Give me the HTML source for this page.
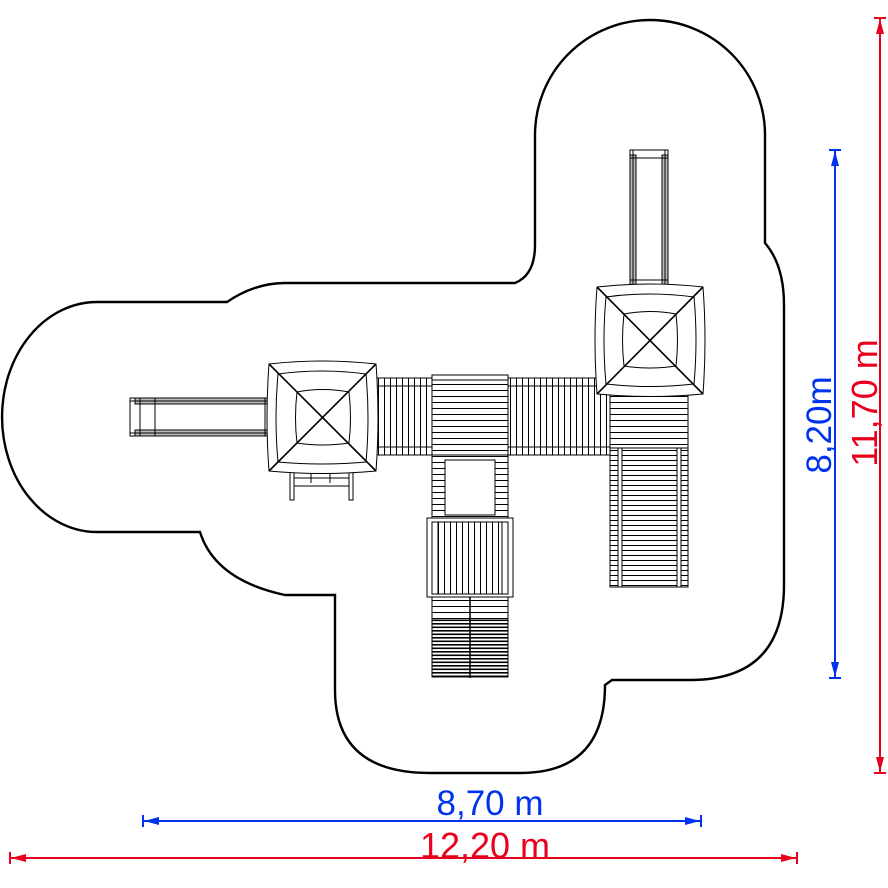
<!DOCTYPE html>
<html><head><meta charset="utf-8"><style>
html,body{margin:0;padding:0;background:#fff;}
svg{display:block;}
text{font-family:"Liberation Sans",sans-serif;}
</style></head><body>
<svg width="888" height="888" viewBox="0 0 888 888" xmlns="http://www.w3.org/2000/svg">
<defs>
<pattern id="h6" width="10" height="6" patternUnits="userSpaceOnUse"><rect width="10" height="6" fill="#fff"/><line x1="0" y1="0.5" x2="10" y2="0.5" stroke="#000" stroke-width="1"/></pattern>
<pattern id="h5" width="10" height="5" patternUnits="userSpaceOnUse"><rect width="10" height="5" fill="#fff"/><line x1="0" y1="0.5" x2="10" y2="0.5" stroke="#000" stroke-width="1"/></pattern>
<pattern id="h3" width="10" height="3.5" patternUnits="userSpaceOnUse"><rect width="10" height="3.5" fill="#fff"/><line x1="0" y1="0.8" x2="10" y2="0.8" stroke="#000" stroke-width="1.6"/></pattern>
<pattern id="v6" width="6" height="10" patternUnits="userSpaceOnUse"><rect width="6" height="10" fill="#fff"/><line x1="0.5" y1="0" x2="0.5" y2="10" stroke="#000" stroke-width="1"/></pattern>
</defs>

<path d="M535,245 L535,135 A115,115 0 0 1 765,135 L765,243 Q784,265 784,305 L784,585 Q784,680 690,680 L612,680 L605,685 Q605,773 520,773 L430,773 Q335,773 335,690 L335,595 L285,595 Q215,580 200,532 L97,532 A95,115 0 0 1 97,302 L227,302 Q255,283 285,283 L515,283 Q535,275 535,245 Z" fill="none" stroke="#000" stroke-width="2.4"/>

<g stroke="#000" fill="#fff" stroke-width="1">
<rect x="130" y="398" width="138" height="38" fill="#fff"/>
<rect x="135" y="398" width="133" height="6" fill="#bbb"/>
<rect x="135" y="430" width="133" height="6" fill="#bbb"/>
<line x1="130" y1="401" x2="268" y2="401"/><line x1="130" y1="433" x2="268" y2="433"/>
<line x1="140" y1="398" x2="140" y2="436"/><line x1="155" y1="398" x2="155" y2="436"/><line x1="265" y1="398" x2="265" y2="436"/>
<rect x="630" y="150" width="38" height="137"/>
<rect x="630" y="155" width="6" height="132" fill="#bbb"/>
<rect x="662" y="155" width="6" height="132" fill="#bbb"/>
<line x1="633" y1="150" x2="633" y2="287"/><line x1="665" y1="150" x2="665" y2="287"/>
<line x1="630" y1="158" x2="668" y2="158"/><line x1="630" y1="280" x2="668" y2="280"/>

<rect x="376" y="378" width="56" height="77" fill="url(#v6)"/>
<rect x="376" y="386" width="56" height="61" fill="url(#v6)"/>
<line x1="376" y1="386" x2="432" y2="386"/><line x1="376" y1="447" x2="432" y2="447"/>
<rect x="508" y="378" width="104" height="77" fill="url(#v6)"/>
<rect x="508" y="386" width="104" height="61" fill="url(#v6)"/>
<line x1="508" y1="386" x2="612" y2="386"/><line x1="508" y1="447" x2="612" y2="447"/>
<rect x="432" y="375" width="76" height="80" fill="url(#h6)"/>
<rect x="432" y="375" width="76" height="5" fill="#fff"/>
<rect x="432" y="455" width="76" height="64" fill="url(#h6)"/>
<rect x="445" y="460" width="50" height="55" fill="#fff"/>
<rect x="427" y="518" width="86" height="79" fill="#fff"/>
<rect x="432" y="522" width="76" height="72" fill="url(#v6)"/>
<rect x="432" y="522" width="6" height="72"/><rect x="502" y="522" width="6" height="72"/>
<rect x="432" y="597" width="76" height="80" fill="url(#h6)"/>
<rect x="432" y="620" width="76" height="57" fill="url(#h3)"/>
<line x1="470" y1="597" x2="470" y2="678" stroke-width="1.5"/>
<rect x="610" y="394" width="78" height="54" fill="url(#h6)"/>
<rect x="610" y="448" width="78" height="139" fill="url(#h5)"/>
<rect x="618" y="448" width="4" height="139"/><rect x="677" y="448" width="4" height="139"/>
<line x1="610" y1="587" x2="688" y2="587"/>
<rect x="290" y="472" width="4" height="28"/><rect x="349" y="472" width="4" height="28"/>
<line x1="294" y1="478" x2="349" y2="478"/><line x1="294" y1="486" x2="349" y2="486"/>
<line x1="311" y1="472" x2="311" y2="483"/><line x1="330" y1="472" x2="330" y2="483"/>
</g>

<g fill="#fff" stroke="#000" stroke-width="1">
<path d="M269,364 Q322,358 376,364 Q380,418 376,471 Q322,476 269,471 Q265,418 269,364Z"/>
<path d="M278,374 Q322,368 366,374 Q370,418 366,462 Q322,466 278,462 Q274,418 278,374Z" fill="none"/>
<path d="M297,392 Q322,387 349,392 Q352,418 349,443 Q322,447 297,443 Q294,418 297,392Z" fill="none"/>
<line x1="269" y1="364" x2="376" y2="471" stroke-width="1.6"/><line x1="376" y1="364" x2="269" y2="471" stroke-width="1.6"/>
<path d="M597,287 Q650,281 703,287 Q707,340 703,394 Q650,399 597,394 Q593,340 597,287Z"/>
<path d="M606,297 Q650,291 694,297 Q698,340 694,384 Q650,389 606,384 Q602,340 606,297Z" fill="none"/>
<path d="M624,314 Q650,309 676,314 Q679,340 676,366 Q650,370 624,366 Q621,340 624,314Z" fill="none"/>
<line x1="597" y1="287" x2="703" y2="394" stroke-width="1.6"/><line x1="703" y1="287" x2="597" y2="394" stroke-width="1.6"/>
</g>

<g stroke="#0033ee" stroke-width="2" fill="#0033ee">
<line x1="835" y1="150" x2="835" y2="678"/>
<line x1="829" y1="150" x2="841" y2="150"/><line x1="829" y1="678" x2="841" y2="678"/>
<path d="M835,151 L831,166 L839,166Z" stroke="none"/><path d="M835,677 L831,662 L839,662Z" stroke="none"/>
<line x1="143" y1="821" x2="701" y2="821"/>
<line x1="143" y1="815" x2="143" y2="827"/><line x1="701" y1="815" x2="701" y2="827"/>
<path d="M144,821 L159,817 L159,825Z" stroke="none"/><path d="M700,821 L685,817 L685,825Z" stroke="none"/>
</g>
<g stroke="#e8001c" stroke-width="2" fill="#e8001c">
<line x1="880" y1="18" x2="880" y2="773"/>
<line x1="874" y1="18" x2="886" y2="18"/><line x1="874" y1="773" x2="886" y2="773"/>
<path d="M880,19 L876,34 L884,34Z" stroke="none"/><path d="M880,772 L876,757 L884,757Z" stroke="none"/>
<line x1="10" y1="858" x2="797" y2="858"/>
<line x1="10" y1="852" x2="10" y2="864"/><line x1="797" y1="852" x2="797" y2="864"/>
<path d="M11,858 L26,854 L26,862Z" stroke="none"/><path d="M796,858 L781,854 L781,862Z" stroke="none"/>
</g>
<text x="490" y="815" font-size="35" fill="#0033ee" text-anchor="middle">8,70 m</text>
<text x="485" y="858" font-size="36" fill="#e8001c" text-anchor="middle">12,20 m</text>
<text transform="translate(831,425) rotate(-90)" font-size="35" fill="#0033ee" text-anchor="middle">8,20m</text>
<text transform="translate(877,403) rotate(-90)" font-size="36" fill="#e8001c" text-anchor="middle">11,70 m</text>
</svg>
</body></html>
